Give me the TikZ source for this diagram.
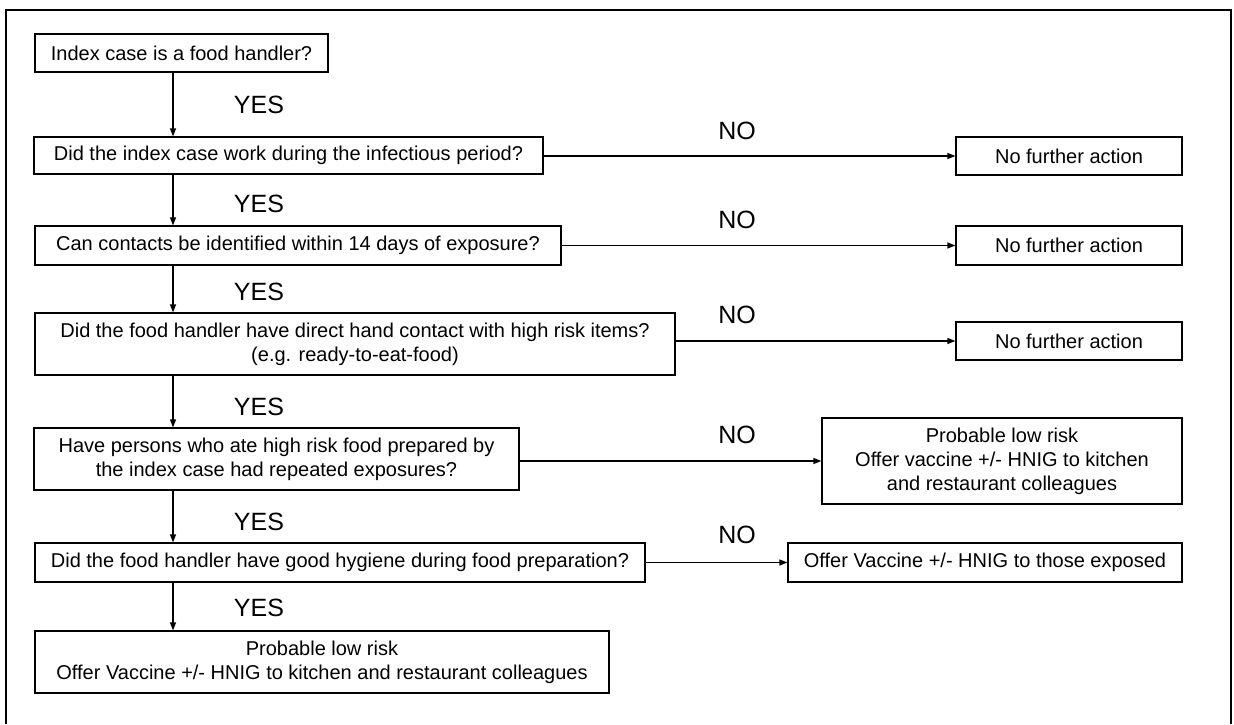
\documentclass[tikz,border=0pt]{standalone}
\usepackage{fontspec}
\setmainfont{Liberation Sans}
\usetikzlibrary{arrows.meta}
\tikzset{
  qbox/.style={draw, line width=1.2pt, inner sep=0pt, align=center,
    font=\fontsize{20}{24}\selectfont},
  answer/.style={inner sep=0pt, font=\fontsize{25}{30}\selectfont},
}
\begin{document}
\begin{tikzpicture}[x=1pt,y=-1pt]
      \useasboundingbox (0,0) rectangle (1234,724);
      \draw[line width=2pt] (6,724) -- (6,10) -- (1231,10) -- (1231,724);
      \coordinate (axis) at (173,0);
      \draw
        (181.5,53) node[qbox,minimum width=293pt,minimum height=38pt] (q1){Index case is a food handler?}
        (288.5,155.5) node[qbox,minimum width=509pt,minimum height=37pt] (q2){Did the index case work during the infectious period?}
        (298,245.5) node[qbox,minimum width=526pt,minimum height=39pt] (q3){Can contacts be identified within 14 days of exposure?}
        (355,344) node[qbox,minimum width=640pt,minimum height=62pt] (q4){Did the food handler have direct hand contact with high risk items?\\(e.g. ready-to-eat-food)}
        (276.5,459) node[qbox,minimum width=485pt,minimum height=62pt] (q5){Have persons who ate high risk food prepared by\\the index case had repeated exposures?}
        (340,562.5) node[qbox,minimum width=610pt,minimum height=39pt] (q6){Did the food handler have good hygiene during food preparation?}
        (322,662) node[qbox,minimum width=574pt,minimum height=62pt] (q7){Probable low risk\\Offer Vaccine +/- HNIG to kitchen and restaurant colleagues}
        (1069,156) node[qbox,minimum width=226pt,minimum height=38pt] (n1){No further action}
        (1069,245.5) node[qbox,minimum width=226pt,minimum height=39pt] (n2){No further action}
        (1069,341) node[qbox,minimum width=226pt,minimum height=38pt] (n3){No further action}
        (1002,461) node[qbox,minimum width=360pt,minimum height=86pt] (n4){Probable low risk\\Offer vaccine +/- HNIG to kitchen\\and restaurant colleagues}
        (985,562.5) node[qbox,minimum width=394pt,minimum height=39pt] (n5){Offer Vaccine +/- HNIG to those exposed};
      \draw
        (259,105) node[answer] (yes1){YES}
        (259,204) node[answer] (yes2){YES}
        (259,292) node[answer] (yes3){YES}
        (259,407) node[answer] (yes4){YES}
        (259,522) node[answer] (yes5){YES}
        (259,608) node[answer] (yes6){YES}
        (737,131) node[answer] (no1){NO}
        (737,220) node[answer] (no2){NO}
        (737,315) node[answer] (no3){NO}
        (737,435) node[answer] (no4){NO}
        (737,535) node[answer] (no5){NO};
      \begin{scope}[-{Triangle[length=8pt,width=6pt]}, line width=1.2pt]
        \draw (q1.south -| axis) to (q2.north -| axis);
        \draw (q2.south -| axis) to (q3.north -| axis);
        \draw (q3.south -| axis) to (q4.north -| axis);
        \draw (q4.south -| axis) to (q5.north -| axis);
        \draw (q5.south -| axis) to (q6.north -| axis);
        \draw (q6.south -| axis) to (q7.north -| axis);
        \draw (n1.west -| q2.east) to (n1.west);
        \draw (n2.west -| q3.east) to (n2.west);
        \draw (n3.west -| q4.east) to (n3.west);
        \draw (n4.west -| q5.east) to (n4.west);
        \draw (n5.west -| q6.east) to (n5.west);
      \end{scope}
    \end{tikzpicture}
\end{document}
